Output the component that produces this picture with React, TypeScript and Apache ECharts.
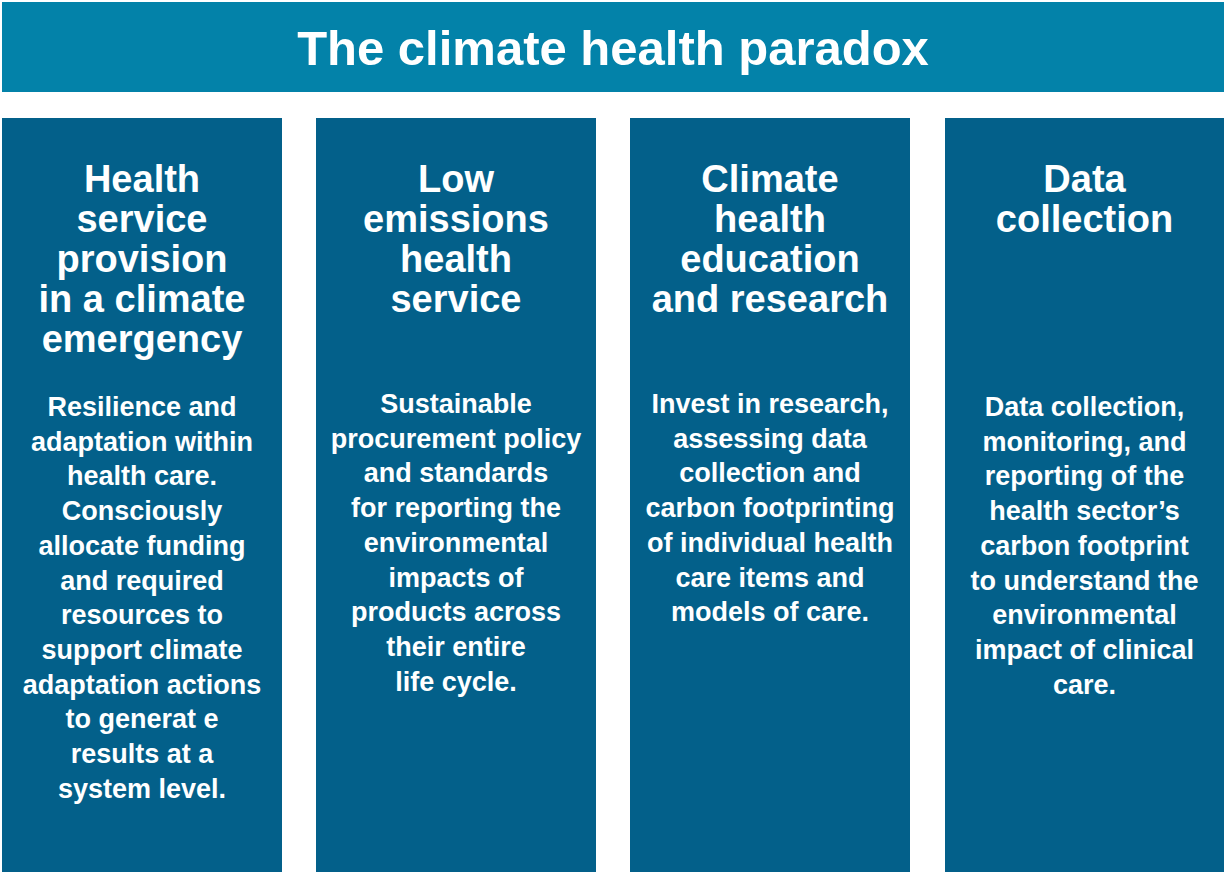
import React, { useEffect, useRef } from "react";
import * as echarts from "echarts";

const chartTitle = "The climate health paradox";

const columnTitles: string[] = [
  "Health\nservice\nprovision\nin a climate\nemergency",
  "Low\nemissions\nhealth\nservice",
  "Climate\nhealth\neducation\nand research",
  "Data\ncollection",
];

const columnDescriptions: string[] = [
  "Resilience and\nadaptation within\nhealth care.\nConsciously\nallocate funding\nand required\nresources to\nsupport climate\nadaptation actions\nto generat e\nresults at a\nsystem level.",
  "Sustainable\nprocurement policy\nand standards\nfor reporting the\nenvironmental\nimpacts of\nproducts across\ntheir entire\nlife cycle.",
  "Invest in research,\nassessing data\ncollection and\ncarbon footprinting\nof individual health\ncare items and\nmodels of care.",
  "Data collection,\nmonitoring, and\nreporting of the\nhealth sector\u2019s\ncarbon footprint\nto understand the\nenvironmental\nimpact of clinical\ncare.",
];

// layout (not data)
const COL_X = [2, 316, 630, 945];
const COL_W = [280, 280, 280, 279];
const DESC_FIRST_CENTER = [407, 404, 404, 407];

const HEADER_COLOR = "#0382a9";
const COLUMN_COLOR = "#03608a";
const FONT = "'Liberation Sans', Arial, Helvetica, sans-serif";

export default function App() {
  const ref = useRef<HTMLDivElement>(null);

  useEffect(() => {
    document.body.style.margin = "0";
    if (!ref.current) return;
    const chart = echarts.init(ref.current, undefined, { renderer: "svg" });

    const elements: any[] = [
      {
        type: "rect",
        shape: { x: 2, y: 2, width: 1222, height: 90 },
        style: { fill: HEADER_COLOR },
      },
      {
        type: "text",
        style: {
          text: chartTitle,
          x: 613,
          y: 48,
          textAlign: "center",
          textVerticalAlign: "middle",
          font: `bold 49px ${FONT}`,
          fill: "#ffffff",
        },
      },
    ];

    columnTitles.forEach((t, i) => {
      const cx = COL_X[i] + COL_W[i] / 2;
      elements.push({
        type: "rect",
        shape: { x: COL_X[i], y: 118, width: COL_W[i], height: 760 },
        style: { fill: COLUMN_COLOR },
      });
      elements.push({
        type: "text",
        style: {
          text: t,
          x: cx,
          y: 179 - 20,
          textAlign: "center",
          textVerticalAlign: "top",
          font: `bold 38px ${FONT}`,
          lineHeight: 40,
          fill: "#ffffff",
        },
      });
      elements.push({
        type: "text",
        style: {
          text: columnDescriptions[i],
          x: cx,
          y: DESC_FIRST_CENTER[i] - 17.35,
          textAlign: "center",
          textVerticalAlign: "top",
          font: `bold 27px ${FONT}`,
          lineHeight: 34.7,
          fill: "#ffffff",
        },
      });
    });

    chart.setOption({
      animation: false,
      backgroundColor: "#ffffff",
      graphic: { elements },
    });

    return () => chart.dispose();
  }, []);

  return <div ref={ref} style={{ width: 1224, height: 872 }} />;
}
